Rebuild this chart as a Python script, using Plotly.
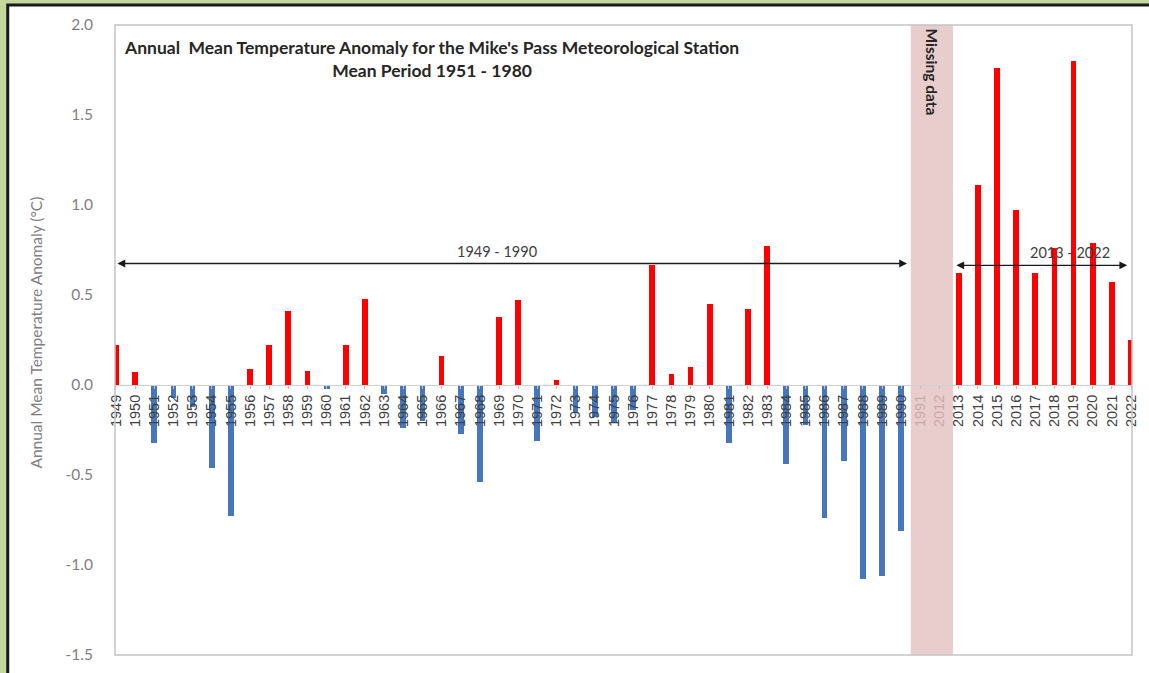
import plotly.graph_objects as go

# Year labels along the category axis (1991-2012 gap collapsed into two slots)
years = [str(y) for y in range(1949, 1991)] + ["1991", "2012"] + [str(y) for y in range(2013, 2023)]

# Annual mean temperature anomaly (°C) relative to 1951-1980
anomaly = [
    0.22, 0.07, -0.32, -0.07, -0.12, -0.46, -0.73, 0.09, 0.22, 0.41,   # 1949-1958
    0.08, -0.02, 0.22, 0.48, -0.05, -0.24, -0.20, 0.16, -0.27, -0.54,  # 1959-1968
    0.38, 0.47, -0.31, 0.03, -0.15, -0.18, -0.21, -0.14, 0.665, 0.06,  # 1969-1978
    0.10, 0.45, -0.32, 0.42, 0.77, -0.44, -0.22, -0.74, -0.42, -1.08,  # 1979-1988
    -1.06, -0.81,                                                      # 1989-1990
    None, None,                                                        # missing
    0.62, 1.11, 1.76, 0.97, 0.62, 0.76, 1.80, 0.79, 0.57, 0.25,        # 2013-2022
]

missing_labels = ["1991", "2012"]
period_labels = ["1949 - 1990", "2013 - 2022"]
y_ticks = [-1.5, -1.0, -0.5, 0.0, 0.5, 1.0, 1.5, 2.0]
y_ticktext = ["-1.5", "-1.0", "-0.5", "0.0", "0.5", "1.0", "1.5", "2.0"]

POS, NEG = "#ff0000", "#4677bd"
GRAY = "#7f7f7f"
DARK = "#404040"

xi = list(range(len(years)))
colors = [POS if (v is not None and v >= 0) else NEG for v in anomaly]

ticktext = [
    f"<span style='color:#c9a9a9'>{y}</span>" if y in missing_labels else y
    for y in years
]

fig = go.Figure()
fig.add_trace(go.Bar(x=xi, y=anomaly, marker=dict(color=colors, line=dict(width=0)),
                     width=0.3, showlegend=False, hoverinfo="x+y"))

W, H = 1149, 673
L, R, T, B = 115, 10, 25, 18
pw, ph = W - L - R, H - T - B


def px_x(p):
    return (p - L) / pw


def px_y(p):
    return (H - B - p) / ph


shapes = [
    # white card with dark border (runs off the right and bottom edges)
    dict(type="rect", xref="paper", yref="paper", x0=px_x(7), x1=px_x(1170), y0=px_y(700), y1=px_y(5),
         fillcolor="white", line=dict(color="#1a1a1a", width=3), layer="below"),
    # missing-data band
    dict(type="rect", xref="x", yref="paper", x0=41.5, x1=43.7, y0=0, y1=1,
         fillcolor="#e9cdcd", line=dict(width=0), layer="below"),
    # plot frame
    dict(type="rect", xref="paper", yref="paper", x0=0, x1=1, y0=0, y1=1,
         fillcolor="rgba(0,0,0,0)", line=dict(color="#c4c4c4", width=1.5), layer="above"),
]

annotations = [
    dict(text="Annual  Mean Temperature Anomaly for the Mike's Pass Meteorological Station<br>Mean Period 1951 - 1980",
         xref="paper", yref="paper", x=px_x(434), y=px_y(35), xanchor="center", yanchor="top",
         showarrow=False, align="center", font=dict(family="Lato", size=17.5, color="#262626", weight="bold")),
    dict(text="Missing data", xref="x", yref="y", x=42.6, y=1.99, textangle=90,
         xanchor="center", yanchor="top", showarrow=False,
         font=dict(family="Lato", size=15.5, color="#262626", weight="bold")),
    dict(text="Annual Mean Temperature Anomaly (°C)", xref="paper", yref="paper",
         x=px_x(35), y=px_y(333), textangle=-90, xanchor="center", yanchor="middle",
         showarrow=False, font=dict(family="Lato", size=15.5, color=GRAY)),
    # period arrows
    dict(x=41.3, y=0.675, ax=0.0, ay=0.675, xref="x", yref="y", axref="x", ayref="y",
         text="", showarrow=True, arrowhead=2, startarrowhead=2, arrowside="end+start",
         arrowsize=1.2, arrowwidth=1.3, arrowcolor="#1a1a1a"),
    dict(x=52.8, y=0.665, ax=43.8, ay=0.665, xref="x", yref="y", axref="x", ayref="y",
         text="", showarrow=True, arrowhead=2, startarrowhead=2, arrowside="end+start",
         arrowsize=1.2, arrowwidth=1.3, arrowcolor="#1a1a1a"),
    dict(text=period_labels[0], x=19.9, y=0.74, xref="x", yref="y", showarrow=False,
         font=dict(family="Lato", size=14.5, color=DARK)),
    dict(text=period_labels[1], x=49.8, y=0.735, xref="x", yref="y", showarrow=False,
         font=dict(family="Lato", size=14.5, color=DARK)),
]

fig.update_layout(
    width=W, height=H,
    margin=dict(l=L, r=R, t=T, b=B, pad=0),
    paper_bgcolor="#c5d79c",
    plot_bgcolor="white",
    shapes=shapes,
    annotations=annotations,
    bargap=0,
    xaxis=dict(
        range=[-0.05, 53.05], tickmode="array", tickvals=xi, ticktext=ticktext,
        tickangle=-90, anchor="free", position=1.5 / 3.5,
        showline=True, linecolor="#d0d0d0", linewidth=1,
        ticks="outside", ticklen=3, tickcolor="#bfbfbf",
        showgrid=False, zeroline=False,
        tickfont=dict(family="Liberation Sans", size=14.5, color=DARK),
    ),
    yaxis=dict(
        range=[-1.5, 2.0], tickmode="array", tickvals=y_ticks, ticktext=y_ticktext,
        showgrid=False, zeroline=False, showline=False, ticks="",
        ticklabelstandoff=21,
        tickfont=dict(family="Lato", size=15.5, color=GRAY),
    ),
)

fig.write_html("out.html")
